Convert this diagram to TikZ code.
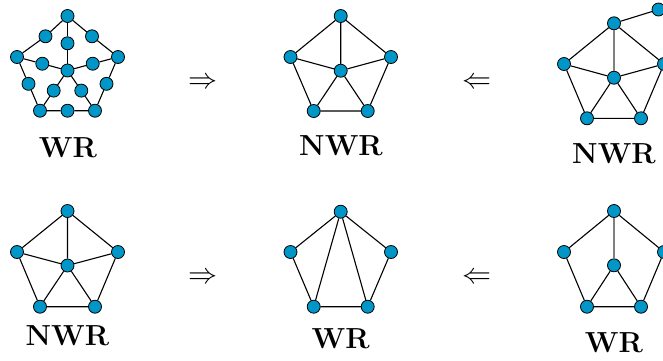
\documentclass[tikz,border=0pt]{standalone}
\definecolor{nodeblue}{RGB}{0,150,200}
\begin{document}
\begin{tikzpicture}[x=1pt,y=-1pt,
 vtx/.style={circle,draw=black,fill=nodeblue,line width=0.8pt,minimum size=13pt,inner sep=0pt},
 edge/.style={line width=1.1pt,black},
 gedge/.style={line width=2pt,black!50},
 lbl/.style={anchor=base,font=\fontsize{29}{34}\selectfont\bfseries,inner sep=0pt},
 rel/.style={font=\fontsize{24.88}{30}\selectfont,inner sep=0pt,scale=1.166}]
\useasboundingbox (0,0) rectangle (663,360);
\clip (0,0) rectangle (663,360);
% ---------- Graph 1: subdivided wheel ----------
\node[vtx] (a1t) at (67.5,16) {};
\node[vtx] (a1l) at (17,57) {};
\node[vtx] (a1r) at (118,57) {};
\node[vtx] (a1c) at (67.5,70.5) {};
\node[vtx] (a1bl) at (40,110.7) {};
\node[vtx] (a1br) at (95,110.7) {};
\node[vtx] (a1ul) at (45.5,36.3) {};
\node[vtx] (a1ur) at (92,36.3) {};
\node[vtx] (a1it) at (67.5,43.3) {};
\node[vtx] (a1il) at (42.3,63.7) {};
\node[vtx] (a1ir) at (92.7,63.7) {};
\node[vtx] (a1lm) at (28.5,83.8) {};
\node[vtx] (a1rm) at (106.5,83.8) {};
\node[vtx] (a1ill) at (53.7,90.6) {};
\node[vtx] (a1ilr) at (81.3,90.6) {};
\node[vtx] (a1bm) at (67.5,110.7) {};
\draw[edge] (a1t) -- (a1ul) -- (a1l) -- (a1lm) -- (a1bl) -- (a1bm) -- (a1br) -- (a1rm) -- (a1r) -- (a1ur) -- (a1t);
\draw[edge] (a1t) -- (a1it) -- (a1c);
\draw[edge] (a1l) -- (a1il) -- (a1c);
\draw[edge] (a1r) -- (a1ir) -- (a1c);
\draw[edge] (a1bl) -- (a1ill) -- (a1c);
\draw[edge] (a1br) -- (a1ilr) -- (a1c);
\node[lbl] (w1) at (68,157) {WR};
% ---------- Graph 2: wheel ----------
\node[vtx] (b1t) at (340.7,16) {};
\node[vtx] (b1l) at (290.5,57) {};
\node[vtx] (b1r) at (391,57) {};
\node[vtx] (b1c) at (340.7,70.7) {};
\node[vtx] (b1bl) at (313.7,111) {};
\node[vtx] (b1br) at (367.7,111) {};
\draw[edge] (b1t) -- (b1l) -- (b1bl) -- (b1br) -- (b1r) -- (b1t);
\draw[edge] (b1c) -- (b1t) (b1c) -- (b1l) (b1c) -- (b1r) (b1c) -- (b1bl) (b1c) -- (b1br);
\node[lbl] (w2) at (341,155) {NWR};
% ---------- Graph 3: wheel plus extra vertex ----------
\node[vtx] (c1t) at (614,23.3) {};
\node[vtx] (c1l) at (564,64) {};
\node[vtx] (c1r) at (664,64) {};
\node[vtx] (c1c) at (614,77.7) {};
\node[vtx] (c1bl) at (587,118.3) {};
\node[vtx] (c1br) at (641,118.3) {};
\node[vtx] (c1x) at (658.5,9.5) {};
\draw[edge] (c1t) -- (c1l) -- (c1bl) -- (c1br) -- (c1r) -- (c1t);
\draw[edge] (c1c) -- (c1l) (c1c) -- (c1r) (c1c) -- (c1bl) (c1c) -- (c1br);
\draw[gedge] (c1t) -- (c1c);
\draw[edge] (c1t) -- (c1x);
\node[lbl] (w3) at (614,163) {NWR};
% ---------- Graph 4: wheel ----------
\node[vtx] (d1t) at (67.5,211) {};
\node[vtx] (d1l) at (17,252) {};
\node[vtx] (d1r) at (118,252) {};
\node[vtx] (d1c) at (67.5,265.5) {};
\node[vtx] (d1bl) at (40,306.7) {};
\node[vtx] (d1br) at (95,306.7) {};
\draw[edge] (d1t) -- (d1l) -- (d1bl) -- (d1br) -- (d1r) -- (d1t);
\draw[edge] (d1c) -- (d1t) (d1c) -- (d1l) (d1c) -- (d1r) (d1c) -- (d1bl) (d1c) -- (d1br);
\node[lbl] (w4) at (67.5,345) {NWR};
% ---------- Graph 5: pentagon with two chords ----------
\node[vtx] (e1t) at (340.7,211.7) {};
\node[vtx] (e1l) at (290.5,252) {};
\node[vtx] (e1r) at (391,252) {};
\node[vtx] (e1bl) at (313.7,306.7) {};
\node[vtx] (e1br) at (367.7,306.7) {};
\draw[edge] (e1t) -- (e1l) -- (e1bl) -- (e1br) -- (e1r) -- (e1t);
\draw[edge] (e1t) -- (e1bl) (e1t) -- (e1br);
\node[lbl] (w5) at (340.7,348) {WR};
% ---------- Graph 6 ----------
\node[vtx] (f1t) at (614,211) {};
\node[vtx] (f1l) at (564,252) {};
\node[vtx] (f1r) at (664,252) {};
\node[vtx] (f1c) at (614,265.3) {};
\node[vtx] (f1bl) at (587,306.7) {};
\node[vtx] (f1br) at (641,306.7) {};
\draw[edge] (f1t) -- (f1l) -- (f1bl) -- (f1br) -- (f1r) -- (f1t);
\draw[edge] (f1c) -- (f1bl) (f1c) -- (f1br);
\draw[gedge] (f1t) -- (f1c);
\node[lbl] (w6) at (614,352) {WR};
% ---------- relations ----------
\node[rel] (r1) at (203.5,83) {$\Rightarrow$};
\node[rel] (r2) at (477,83) {$\Leftarrow$};
\node[rel] (r3) at (203.5,278) {$\Rightarrow$};
\node[rel] (r4) at (477,278) {$\Leftarrow$};
\end{tikzpicture}
\end{document}
